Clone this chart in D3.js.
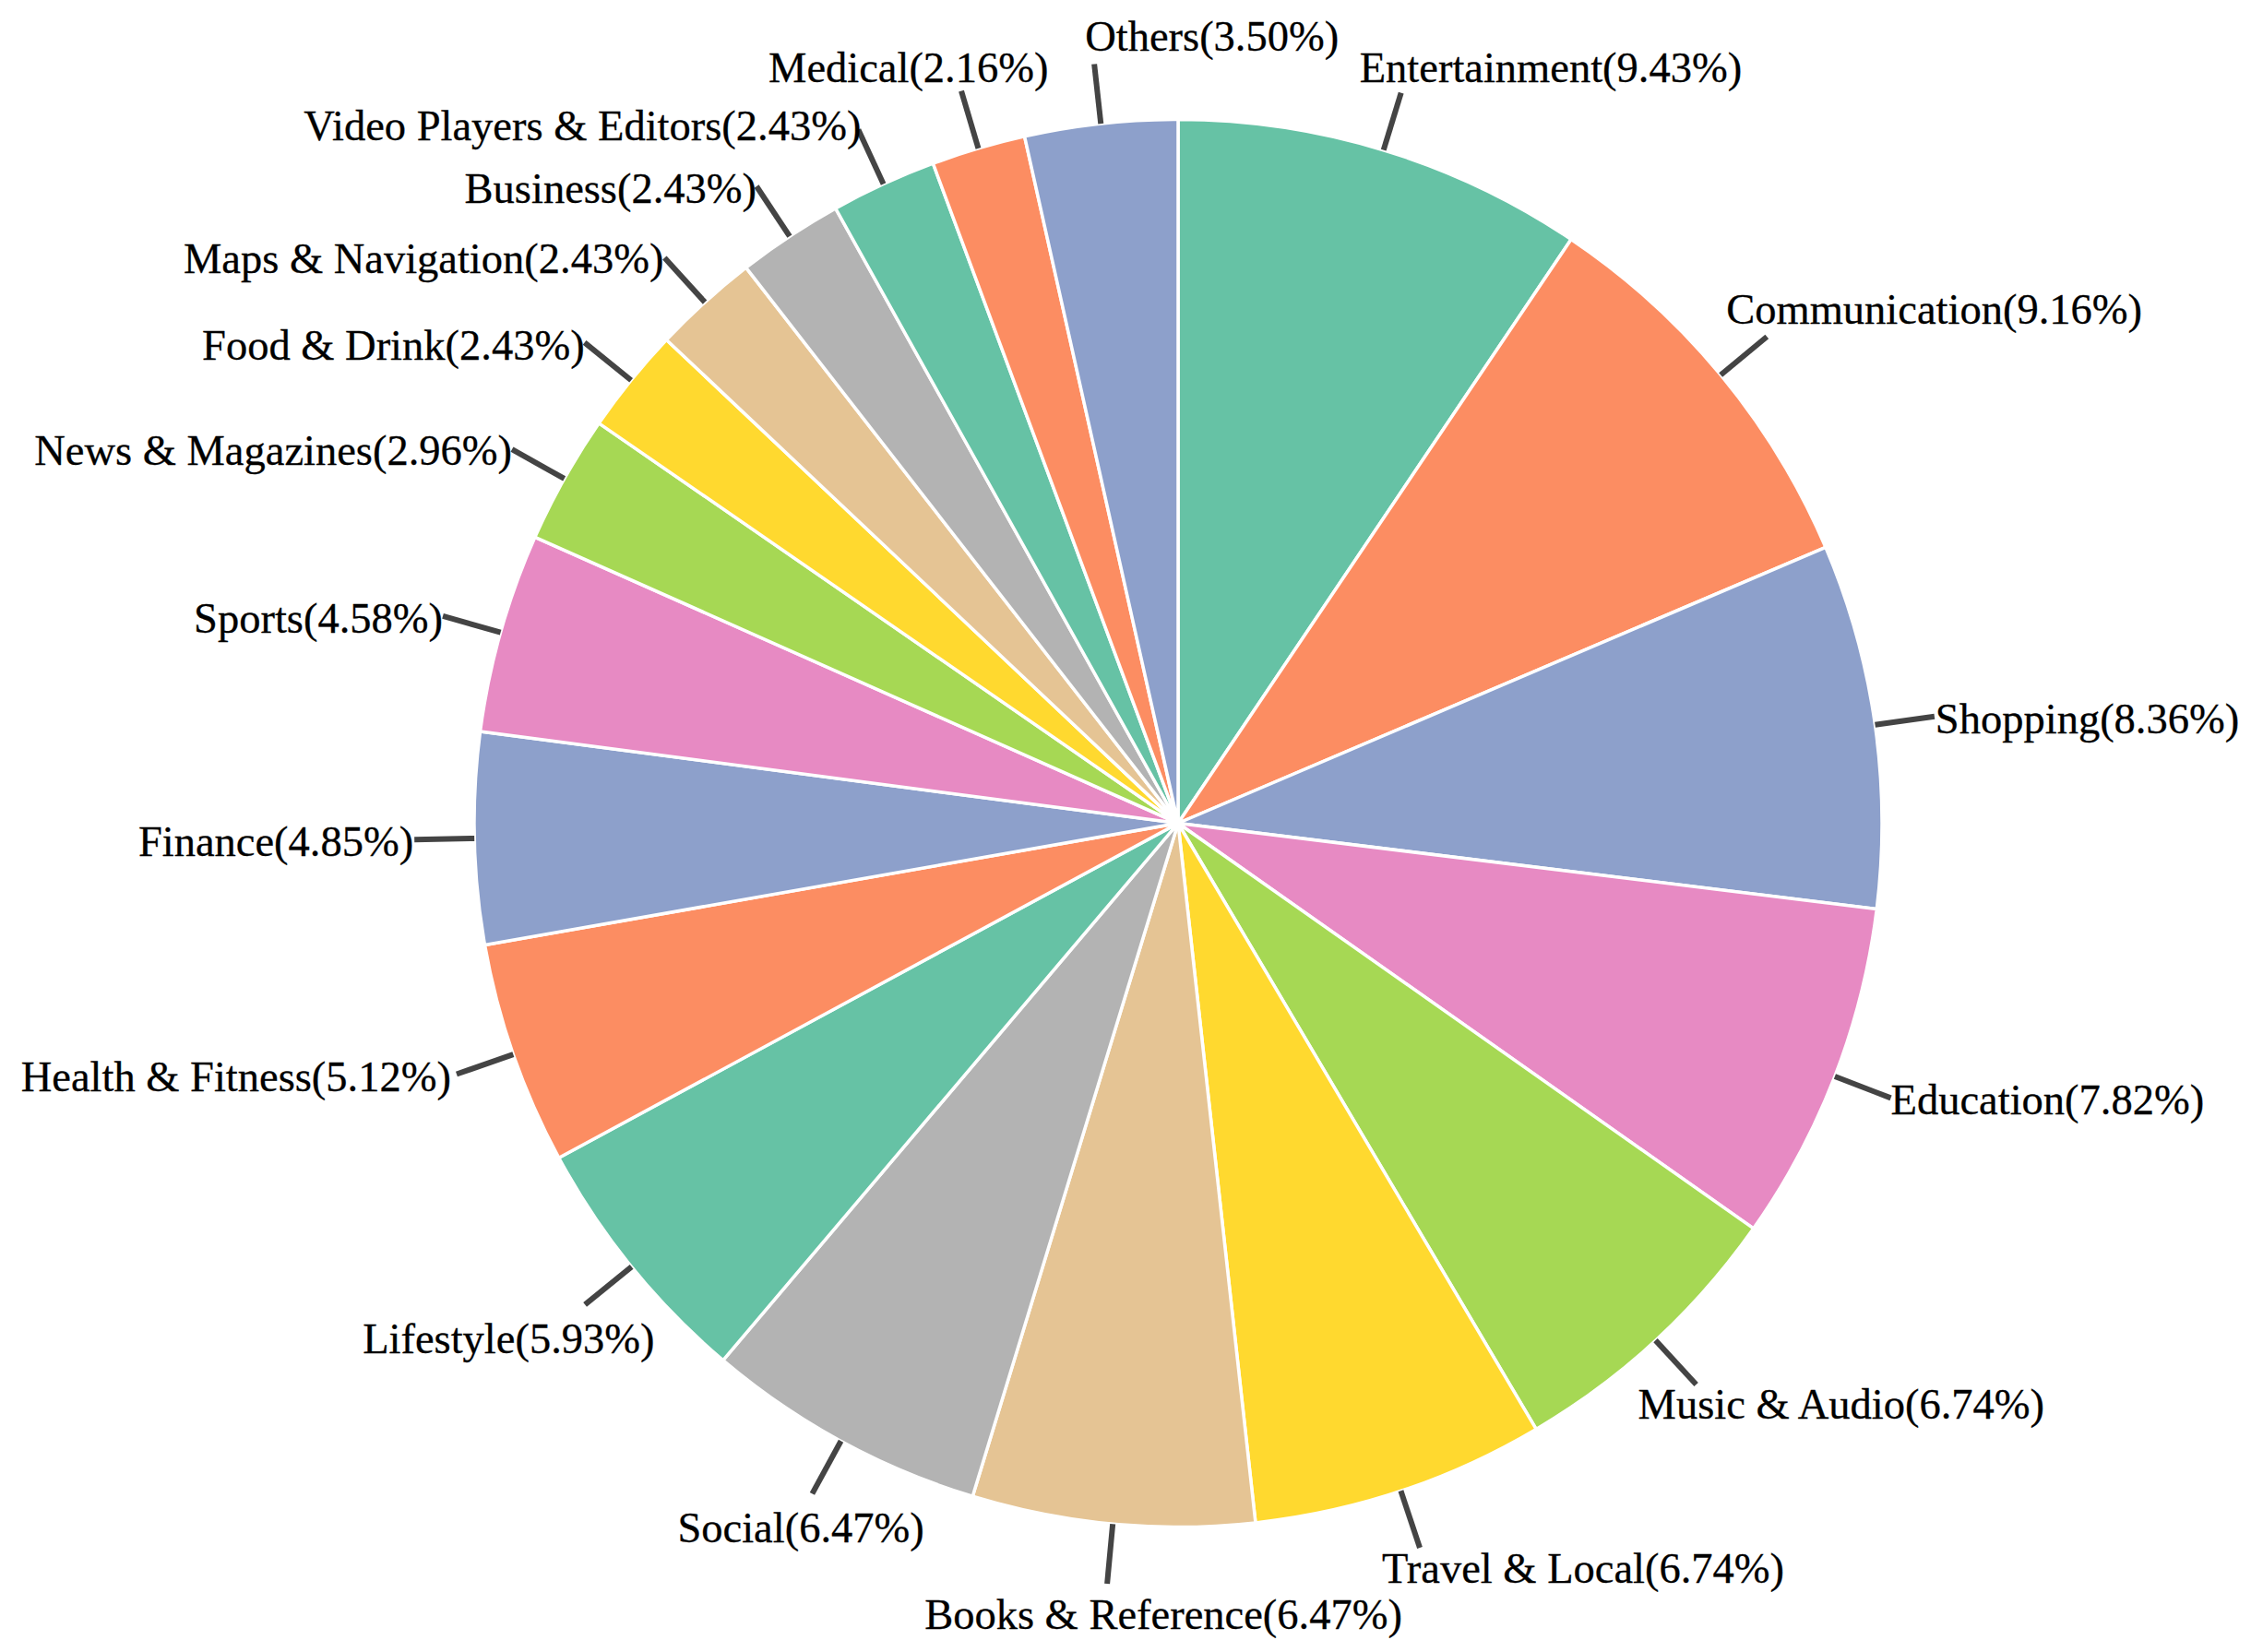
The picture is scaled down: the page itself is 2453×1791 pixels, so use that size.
<!DOCTYPE html>
<html>
<head>
<meta charset="utf-8">
<script src="https://cdnjs.cloudflare.com/ajax/libs/d3/7.8.5/d3.min.js"></script>
<style>
  body { margin: 0; background: #fff; }
  svg { display: block; }
  .label { font-family: "Liberation Serif", serif; font-size: 46.5px; fill: #000; stroke: #000; stroke-width: 0.3px; }
  .leader { stroke: #444; stroke-width: 6px; fill: none; }
  .slice { stroke: #fff; stroke-width: 3.5px; stroke-linejoin: round; }
</style>
</head>
<body>
<div id="chartContainer"></div>
<script>
const categories = ["Entertainment", "Communication", "Shopping", "Education", "Music & Audio",
  "Travel & Local", "Books & Reference", "Social", "Lifestyle", "Health & Fitness", "Finance",
  "Sports", "News & Magazines", "Food & Drink", "Maps & Navigation", "Business",
  "Video Players & Editors", "Medical", "Others"];
const shares = [9.43, 9.16, 8.36, 7.82, 6.74, 6.74, 6.47, 6.47, 5.93, 5.12, 4.85, 4.58, 2.96,
  2.43, 2.43, 2.43, 2.43, 2.16, 3.50];

// label nudges from the end of each leader line, in category order
const labelAnchor = ["start", "start", "start", "start", "start", "start", "start", "start", "start",
  "end", "end", "end", "end", "end", "end", "end", "end", "start", "start"];
const labelDx = [-45, -44, 1, 0, -63, -41, -198, -146, -241, -6, -1, 0, 0, 0, -1, 0, 3, -209, -10];
const labelDy = [-12, -14, 18, 18, 37, 38, 49, 53, 53, 19, 18, 18, 17, 19, 16, 18, 11, -10, -15];

const width = 2453, height = 1791;
const cx = 1277, cy = 892.5, radius = 763, leaderRadius = 828;

const rows = categories.map((name, i) => ({ name, value: shares[i], i }));

const color = d3.scaleOrdinal(d3.schemeSet2);
const pie = d3.pie().sort(null).value(d => d.value);
const arc = d3.arc().innerRadius(0).outerRadius(radius);

const svg = d3.select("#chartContainer").append("svg")
  .attr("width", width)
  .attr("height", height);

const g = svg.append("g").attr("transform", `translate(${cx},${cy})`);
const slices = pie(rows);

g.selectAll(".slice").data(slices).enter().append("path")
  .attr("class", "slice")
  .attr("d", arc)
  .attr("fill", d => color(d.data.i));

const midAngle = d => (d.startAngle + d.endAngle) / 2;
const polar = (a, r) => [r * Math.sin(a), -r * Math.cos(a)];

g.selectAll(".leader").data(slices).enter().append("line")
  .attr("class", "leader")
  .attr("x1", d => polar(midAngle(d), radius)[0])
  .attr("y1", d => polar(midAngle(d), radius)[1])
  .attr("x2", d => polar(midAngle(d), leaderRadius)[0])
  .attr("y2", d => polar(midAngle(d), leaderRadius)[1]);

g.selectAll(".label").data(slices).enter().append("text")
  .attr("class", "label")
  .attr("text-anchor", d => labelAnchor[d.data.i])
  .attr("x", d => polar(midAngle(d), leaderRadius)[0] + labelDx[d.data.i])
  .attr("y", d => polar(midAngle(d), leaderRadius)[1] + labelDy[d.data.i])
  .text(d => `${d.data.name}(${d.data.value.toFixed(2)}%)`);
</script>
</body>
</html>
